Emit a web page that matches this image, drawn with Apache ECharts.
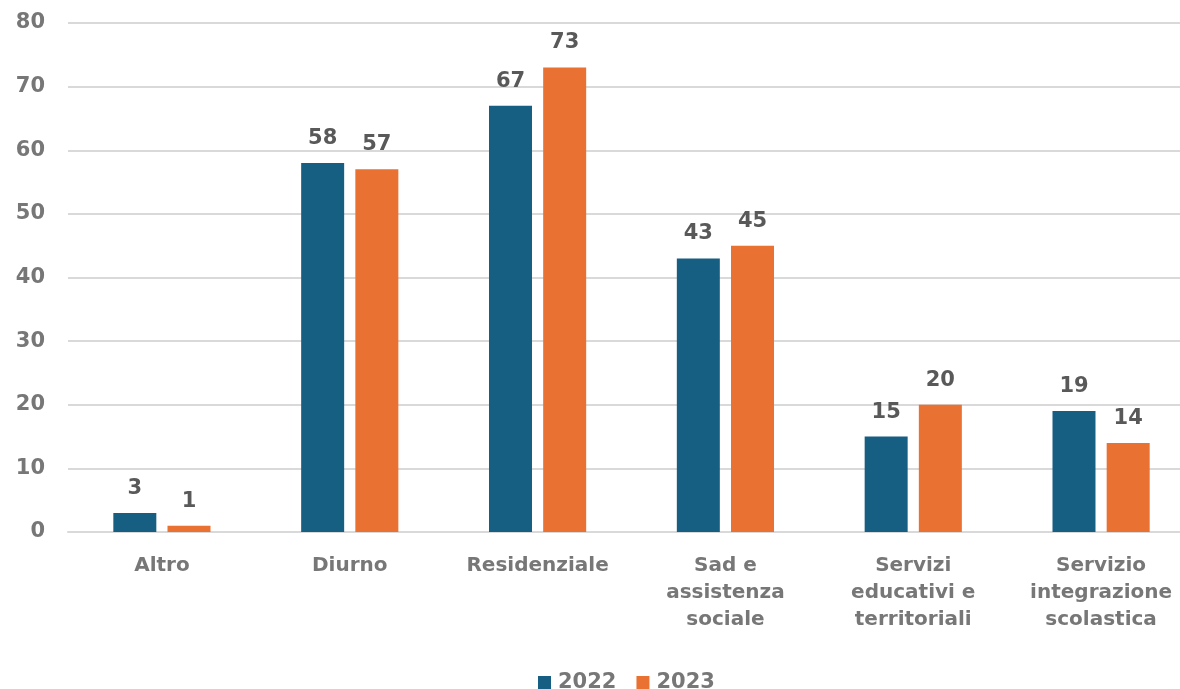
<!DOCTYPE html>
<html><head><meta charset="utf-8">
<script src="https://cdn.jsdelivr.net/npm/echarts@6/dist/echarts.min.js"></script>
<style>html,body{margin:0;padding:0;background:#fff}#c{width:1180px;height:689px}</style>
</head><body><div id="c"></div>
<script>
const categories = ['Altro', 'Diurno', 'Residenziale', 'Sad e\nassistenza\nsociale', 'Servizi\neducativi e\nterritoriali', 'Servizio\nintegrazione\nscolastica'];
const seriesNames = ['2022', '2023'];
const values2022 = [3, 58, 67, 43, 15, 19];
const values2023 = [1, 57, 73, 45, 20, 14];
const yTicks = [0, 10, 20, 30, 40, 50, 60, 70, 80];

const FONT = '"DejaVu Sans", sans-serif';
const chart = echarts.init(document.getElementById('c'));
const labelCfg = {show: true, position: 'top', distance: 14, color: '#595959', fontFamily: FONT, fontWeight: 'bold', fontSize: 21};
chart.setOption({
  animation: false,
  color: ['#175F82', '#E97132'],
  grid: {left: 68, width: 1127, top: 23, bottom: 157, outerBoundsMode: 'none', containLabel: false},
  legend: {
    top: 667, left: 533, itemWidth: 13, itemHeight: 13, itemGap: 20,
    icon: 'rect',
    textStyle: {color: '#777777', fontFamily: FONT, fontWeight: 'bold', fontSize: 21, padding: [0, 0, 0, 2]},
    data: seriesNames
  },
  xAxis: {
    type: 'category', data: categories,
    axisLine: {lineStyle: {color: '#D9D9D9', width: 2}},
    axisTick: {show: false},
    axisLabel: {color: '#777777', fontFamily: FONT, fontWeight: 'bold', fontSize: 20, margin: 20, lineHeight: 27, interval: 0}
  },
  yAxis: {
    type: 'value', min: yTicks[0], max: yTicks[yTicks.length - 1], interval: 10,
    axisLine: {show: false}, axisTick: {show: false},
    splitLine: {lineStyle: {color: '#D9D9D9', width: 2}},
    axisLabel: {color: '#777777', fontFamily: FONT, fontWeight: 'bold', fontSize: 21, margin: 23}
  },
  series: [
    {name: seriesNames[0], type: 'bar', data: values2022, barWidth: 43, barGap: '26%', label: labelCfg},
    {name: seriesNames[1], type: 'bar', data: values2023, barWidth: 43, barGap: '26%', label: labelCfg}
  ]
});
</script></body></html>
